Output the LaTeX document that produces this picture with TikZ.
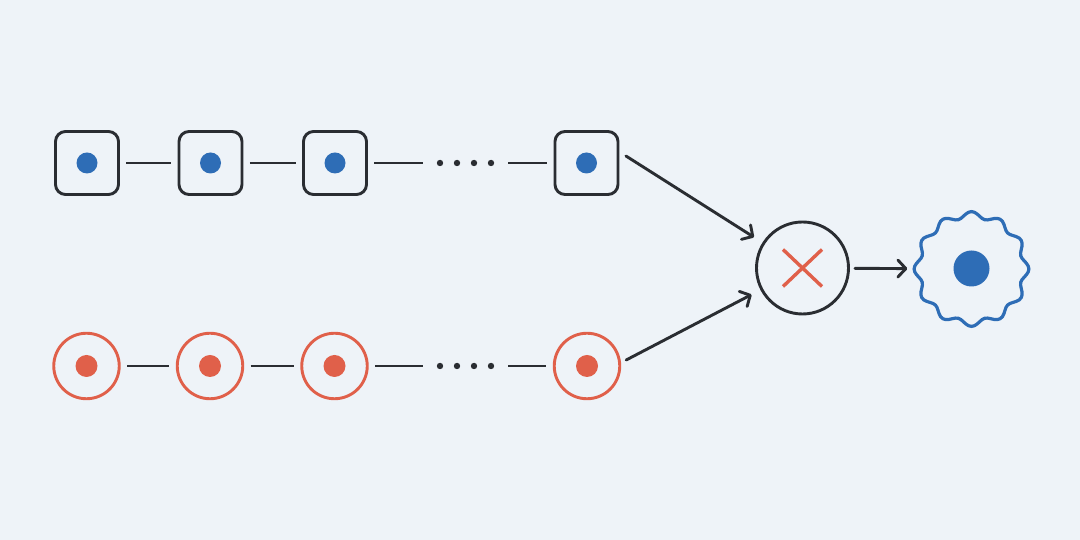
\documentclass[tikz,border=0pt]{standalone}
\usetikzlibrary{arrows.meta}
\definecolor{bg}{HTML}{EEF3F8}
\definecolor{ink}{HTML}{2A2D32}
\definecolor{blu}{HTML}{2E6DB6}
\definecolor{rd}{HTML}{E0604A}
\begin{document}
\begin{tikzpicture}[x=1pt,y=1pt,
  sq/.style={draw=ink, line width=2.9pt, rounded corners=10pt, minimum size=63pt, inner sep=0pt},
  rc/.style={draw=rd, line width=2.9pt, circle, minimum size=65.5pt, inner sep=0pt},
  gapnode/.style={minimum width=72pt, minimum height=10pt, inner sep=0pt},
  link/.style={draw=ink, line width=2.9pt, shorten <=6.5pt, shorten >=6.5pt},
  arr/.style={draw=ink, line width=2.9pt, line cap=round, -{Straight Barb[length=8pt,width=17pt,round]}},
  bdot/.style={fill=blu},
  rdot/.style={fill=rd}]
\useasboundingbox (0,0) rectangle (1080,540);
\fill[bg] (0,0) rectangle (1080,540);
% top row
\node[sq] (t1) at (87,377) {};
\node[sq] (t2) at (210.5,377) {};
\node[sq] (t3) at (335,377) {};
\node[gapnode] (te) at (465.5,377) {};
\node[sq] (t4) at (586.5,377) {};
\foreach \n in {t1,t2,t3,t4} \fill[bdot] (\n) circle (10.5pt);
\draw[link] (t1) -- (t2);
\draw[link] (t2) -- (t3);
\draw[link] (t3) -- (te);
\draw[link] (te) -- (t4);
\foreach \d in {-25.5,-8.5,8.5,25.5} \fill[ink] ([xshift=\d pt]te.center) circle (3.2pt);
% bottom row
\node[rc] (b1) at (86.5,174) {};
\node[rc] (b2) at (210,174) {};
\node[rc] (b3) at (334.5,174) {};
\node[gapnode] (be) at (465.5,174) {};
\node[rc] (b4) at (587,174) {};
\foreach \n in {b1,b2,b3,b4} \fill[rdot] (\n) circle (11pt);
\draw[link] (b1) -- (b2);
\draw[link] (b2) -- (b3);
\draw[link] (b3) -- (be);
\draw[link] (be) -- (b4);
\foreach \d in {-25.5,-8.5,8.5,25.5} \fill[ink] ([xshift=\d pt]be.center) circle (3.2pt);
% combine node
\node[circle, draw=ink, line width=2.9pt, minimum size=92pt, inner sep=0pt] (X) at (802.5,272) {};
\draw[rd, line width=3.4pt] ([shift={(-19.5pt,18.5pt)}]X.center) -- ([shift={(19.5pt,-18.5pt)}]X.center);
\draw[rd, line width=3.4pt] ([shift={(-19.5pt,-18.5pt)}]X.center) -- ([shift={(19.5pt,18.5pt)}]X.center);
% result node
\node[circle, minimum size=112pt, inner sep=0pt] (G) at (971.5,271) {};
\begin{scope}[shift={(G.center)}]
\draw[blu, line width=3.2pt] plot[smooth cycle, domain=0:357, samples=120] (\x:{54.2+3.2*cos(12*\x)});
\end{scope}
\fill[bdot] ([yshift=0.5pt]G.center) circle (18pt);
% arrows
\draw[arr, shorten >=10pt] ([shift={(6.5pt,7pt)}]t4.east) -- (X);
\draw[arr, shorten >=10pt] ([shift={(5pt,6pt)}]b4.east) -- (X);
\draw[arr, shorten <=5pt, shorten >=8pt] (X) -- (G);
\end{tikzpicture}
\end{document}
